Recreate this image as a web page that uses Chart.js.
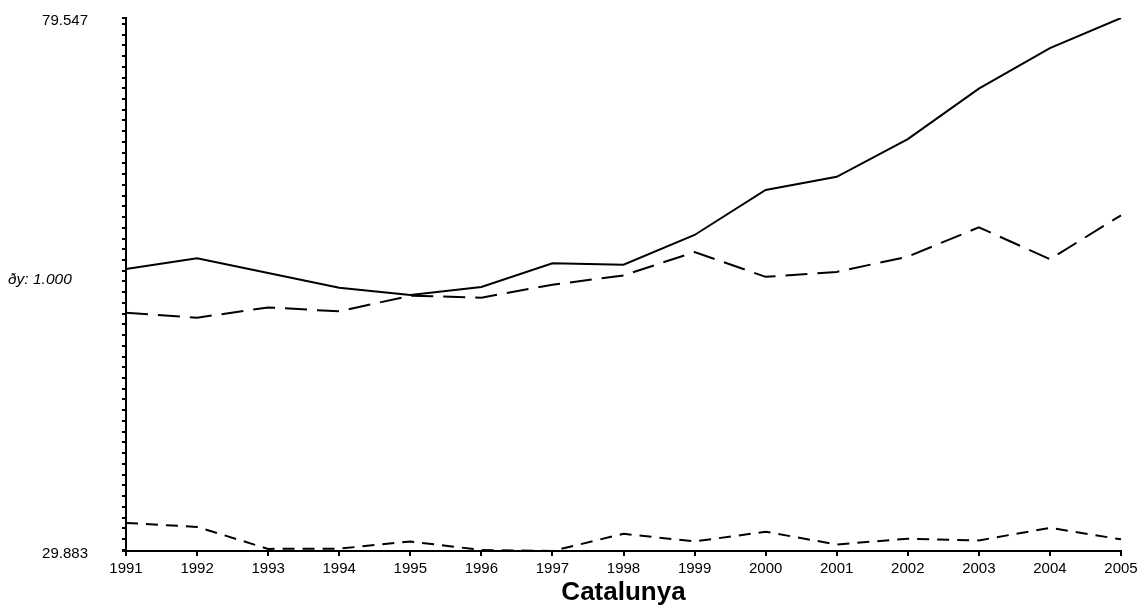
<!DOCTYPE html>
<html>
<head>
<meta charset="utf-8">
<script src="https://cdn.jsdelivr.net/npm/chart.js@4/dist/chart.umd.min.js"></script>
<style>
  html, body { margin: 0; padding: 0; background: #fff; }
  #wrap { width: 1142px; height: 610px; }
</style>
</head>
<body>
<div id="wrap"><canvas id="chart"></canvas></div>
<script>
const years = ['1991', '1992', '1993', '1994', '1995', '1996', '1997', '1998',
  '1999', '2000', '2001', '2002', '2003', '2004', '2005'];

const solidSeries = [56.15, 57.17, 55.78, 54.42, 53.74, 54.48, 56.70, 56.56,
  59.33, 63.52, 64.75, 68.26, 72.96, 76.74, 79.547];
const longDashSeries = [52.08, 51.62, 52.58, 52.21, 53.67, 53.49, 54.69, 55.56,
  57.74, 55.43, 55.89, 57.31, 60.04, 57.08, 61.16];
const shortDashSeries = [32.50, 32.13, 30.08, 30.10, 30.77, 29.98, 29.883, 31.49,
  30.77, 31.68, 30.49, 31.03, 30.87, 32.04, 30.97];

const yMin = 29.883;
const yMax = 79.547;
const yStep = 1.0;
const yTitle = 'ðy: 1.000';
const chartTitle = 'Catalunya';

const FONT = '"Liberation Sans", Arial, sans-serif';

// the step note sits left of the axis, half way down
const sideLabel = {
  id: 'sideLabel',
  afterDraw(chart) {
    const ctx = chart.ctx;
    const area = chart.chartArea;
    ctx.save();
    ctx.fillStyle = '#000';
    ctx.font = 'italic 15.5px ' + FONT;
    ctx.textAlign = 'left';
    ctx.textBaseline = 'middle';
    ctx.fillText(yTitle, 8, (area.top + area.bottom) / 2 - 5);
    ctx.restore();
  }
};

const makeLine = (data, dash) => ({
  data: data,
  borderColor: '#000',
  borderWidth: 2,
  borderDash: dash,
  pointRadius: 0,
  tension: 0,
  fill: false
});

new Chart(document.getElementById('chart').getContext('2d'), {
  type: 'line',
  data: {
    labels: years,
    datasets: [
      makeLine(solidSeries, []),
      makeLine(longDashSeries, [22, 10]),
      makeLine(shortDashSeries, [12, 8])
    ]
  },
  plugins: [sideLabel],
  options: {
    responsive: true,
    maintainAspectRatio: false,
    animation: false,
    layout: { padding: { top: 18, right: 21, left: 0, bottom: 0 } },
    plugins: {
      legend: { display: false },
      tooltip: { enabled: false }
    },
    scales: {
      x: {
        offset: false,
        afterFit: (scale) => { scale.height = 59; },
        border: { display: true, color: '#000', width: 2 },
        grid: {
          display: true,
          drawOnChartArea: false,
          drawTicks: true,
          tickLength: 5,
          color: '#000',
          lineWidth: 2
        },
        ticks: {
          color: '#000',
          font: { family: FONT, size: 15 },
          padding: 4,
          maxRotation: 0,
          autoSkip: false
        },
        title: {
          display: true,
          text: chartTitle,
          color: '#000',
          font: { family: FONT, size: 26, weight: 'bold' },
          padding: { top: 0, bottom: 2 }
        }
      },
      y: {
        min: yMin,
        max: yMax,
        afterFit: (scale) => {
          scale.width = 126;
          scale.paddingTop = 10;
          scale.paddingBottom = 10;
        },
        afterBuildTicks: (scale) => {
          const ticks = [{ value: yMin }];
          for (let v = Math.ceil(yMin); v <= Math.floor(yMax); v += yStep) {
            ticks.push({ value: v });
          }
          ticks.push({ value: yMax });
          scale.ticks = ticks;
        },
        border: { display: true, color: '#000', width: 2 },
        grid: {
          display: true,
          drawOnChartArea: false,
          drawTicks: true,
          tickLength: 4,
          color: '#000',
          lineWidth: 2
        },
        ticks: {
          color: '#000',
          font: { family: FONT, size: 15 },
          padding: 34,
          labelOffset: 3,
          autoSkip: false,
          callback: (value) => {
            if (Math.abs(value - yMin) < 1e-6 || Math.abs(value - yMax) < 1e-6) {
              return value.toFixed(3);
            }
            return '';
          }
        }
      }
    }
  }
});
</script>
</body>
</html>
